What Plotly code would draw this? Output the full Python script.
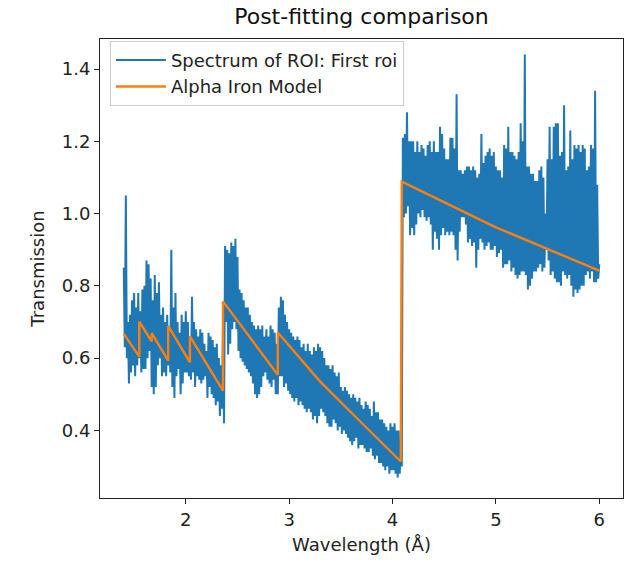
import numpy as np
import plotly.graph_objects as go

# Spectrum of ROI (transmission), sampled every 0.01 Å from 1.40 Å to 6.00 Å
wl_start = 1.40
wl_step = 0.01
spectrum = [
    .85, .63, 1.05, .60, .70, .53, .72, .56, .76, .58, .78, .55, .74, .58, .78, .60, .73, .56, .79, .57,  # 1.40
    .80, .57, .87, .60, .86, .62, .82, .52, .76, .50, .83, .52, .78, .58, .81, .60, .72, .55, .74, .56,  # 1.60
    .70, .55, .72, .58, .68, .56, .90, .52, .74, .49, .78, .55, .70, .57, .67, .50, .72, .53, .70, .56,  # 1.80
    .73, .56, .70, .55, .66, .54, .77, .56, .70, .52, .68, .55, .66, .54, .68, .53, .67, .54, .64, .55,  # 2.00
    .62, .49, .67, .52, .66, .50, .65, .49, .63, .47, .64, .48, .60, .44, .58, .46, .69, .42, .91, .70,  # 2.20
    .90, .61, .89, .64, .92, .68, .91, .70, .93, .68, .88, .62, .79, .60, .78, .59, .76, .58, .74, .57,  # 2.40
    .74, .56, .72, .55, .70, .53, .69, .50, .68, .49, .69, .50, .68, .52, .69, .55, .66, .56, .68, .54,  # 2.60
    .66, .53, .69, .52, .68, .54, .67, .50, .64, .50, .74, .55, .77, .55, .76, .52, .72, .53, .70, .51,  # 2.80
    .68, .50, .67, .49, .66, .48, .65, .49, .66, .47, .65, .48, .63, .47, .64, .46, .62, .45, .64, .46,  # 3.00
    .62, .45, .61, .43, .63, .44, .62, .42, .64, .44, .63, .46, .62, .45, .60, .44, .58, .42, .58, .41,  # 3.20
    .57, .41, .58, .43, .56, .42, .55, .40, .56, .41, .52, .39, .51, .40, .52, .39, .51, .38, .50, .37,  # 3.40
    .49, .36, .50, .37, .49, .38, .48, .35, .49, .36, .47, .36, .46, .35, .48, .34, .47, .34, .46, .35,  # 3.60
    .44, .33, .48, .32, .45, .33, .45, .31, .43, .31, .43, .30, .42, .29, .41, .30, .40, .28, .42, .29,  # 3.80
    .41, .29, .42, .28, .40, .27, .40, .28, .36, .30, 1.21, .99, 1.22, 1.00, 1.28, 1.02, 1.20, .94, 1.20, .96,  # 4.00
    1.20, .94, 1.17, .97, 1.20, 1.00, 1.17, .99, 1.19, 1.01, 1.18, .99, 1.16, .98, 1.19, .99, 1.20, .97, 1.17, .90,  # 4.20
    1.20, .95, 1.17, .93, 1.17, .90, 1.24, .94, 1.22, .96, 1.18, .94, 1.15, .95, 1.15, .94, 1.21, .95, 1.21, .94,  # 4.40
    1.18, .90, 1.33, .87, 1.12, .95, 1.12, .99, 1.11, .99, 1.12, .97, 1.13, .92, 1.13, .93, 1.12, .91, 1.13, .92,  # 4.60
    1.12, .85, 1.10, .90, 1.11, .93, 1.22, .92, 1.14, .90, 1.16, .91, 1.17, .92, 1.18, .90, 1.16, .90, 1.17, .91,  # 4.80
    1.13, .88, 1.12, .89, 1.12, .90, 1.10, .85, 1.19, .86, 1.18, .86, 1.24, .87, 1.17, .84, 1.17, .85, 1.16, .83,  # 5.00
    1.15, .82, 1.17, .83, 1.25, .84, 1.20, .84, 1.44, .83, 1.13, .79, 1.13, .80, 1.11, .82, 1.11, .84, 1.09, .84,  # 5.20
    1.09, .85, 1.12, .86, 1.13, .84, 1.10, .85, 1.00, .90, 1.15, .87, 1.24, .83, 1.15, .84, 1.24, .82, 1.25, .81,  # 5.40
    1.25, .81, 1.16, .80, 1.17, .84, 1.30, .83, 1.12, .82, 1.13, .83, 1.23, .80, 1.15, .77, 1.19, .79, 1.18, .78,  # 5.60
    1.19, .79, 1.17, .80, 1.19, .80, 1.18, .83, 1.12, .84, 1.13, .82, 1.19, .84, 1.18, .81, 1.34, .81, 1.08, .82,  # 5.80
    .86,  # 6.00
]
assert len(spectrum) == 461, len(spectrum)
wavelength = np.round(wl_start + wl_step * np.arange(len(spectrum)), 2)

# Alpha iron model (Bragg-edge sawtooth) vertices
model_wavelength = [1.40, 1.55, 1.55, 1.67, 1.67, 1.83, 1.83, 2.04, 2.04,
                    2.36, 2.36, 2.89, 2.89, 3.30, 3.69, 4.08, 4.09, 5.00, 6.00]
model_transmission = [0.667, 0.604, 0.701, 0.646, 0.669, 0.593, 0.689, 0.588, 0.660,
                      0.510, 0.757, 0.554, 0.671, 0.535, 0.424, 0.314, 1.088, 0.962, 0.842]

x_ticks = [2, 3, 4, 5, 6]
y_ticks = [0.4, 0.6, 0.8, 1.0, 1.2, 1.4]

FONT = "DejaVu Sans"
fig = go.Figure()
fig.add_trace(go.Scatter(x=wavelength, y=spectrum, mode="lines",
                         name="Spectrum of ROI: First roi",
                         line=dict(color="#1f77b4", width=2)))
fig.add_trace(go.Scatter(x=model_wavelength, y=model_transmission, mode="lines",
                         name="Alpha Iron Model",
                         line=dict(color="#ff7f0e", width=2.4)))

axis_common = dict(showline=True, linecolor="#222", linewidth=1, mirror=True,
                   ticks="outside", ticklen=5, tickwidth=1, tickcolor="#222",
                   showgrid=False, zeroline=False, automargin=False,
                   tickfont=dict(family=FONT, size=18, color="#222"))
fig.update_xaxes(range=[1.17, 6.23], tickvals=x_ticks,
                 title=dict(text="Wavelength (Å)", font=dict(family=FONT, size=18, color="#222"),
                            standoff=9),
                 **axis_common)
fig.update_yaxes(range=[0.213, 1.483], tickvals=y_ticks, tickformat=".1f",
                 title=dict(text="Transmission", font=dict(family=FONT, size=18, color="#222"),
                            standoff=12),
                 **axis_common)

fig.update_layout(
    width=628, height=563,
    margin=dict(l=100, r=5, t=39, b=65),
    paper_bgcolor="white", plot_bgcolor="white",
    title=dict(text="Post-fitting comparison", x=0.5, xref="paper", xanchor="center",
               y=1 - 16 / 563, yref="container", yanchor="middle",
               font=dict(family=FONT, size=22, color="#111")),
    legend=dict(x=0.019, y=0.996, xanchor="left", yanchor="top",
                bgcolor="rgba(255,255,255,0.85)", bordercolor="#cccccc", borderwidth=1,
                font=dict(family=FONT, size=18, color="#222"), tracegroupgap=0,
                itemwidth=50),
    showlegend=True,
)

fig.write_html("out.html", config={"displayModeBar": False},
               post_script="document.body.style.margin='0px';")
